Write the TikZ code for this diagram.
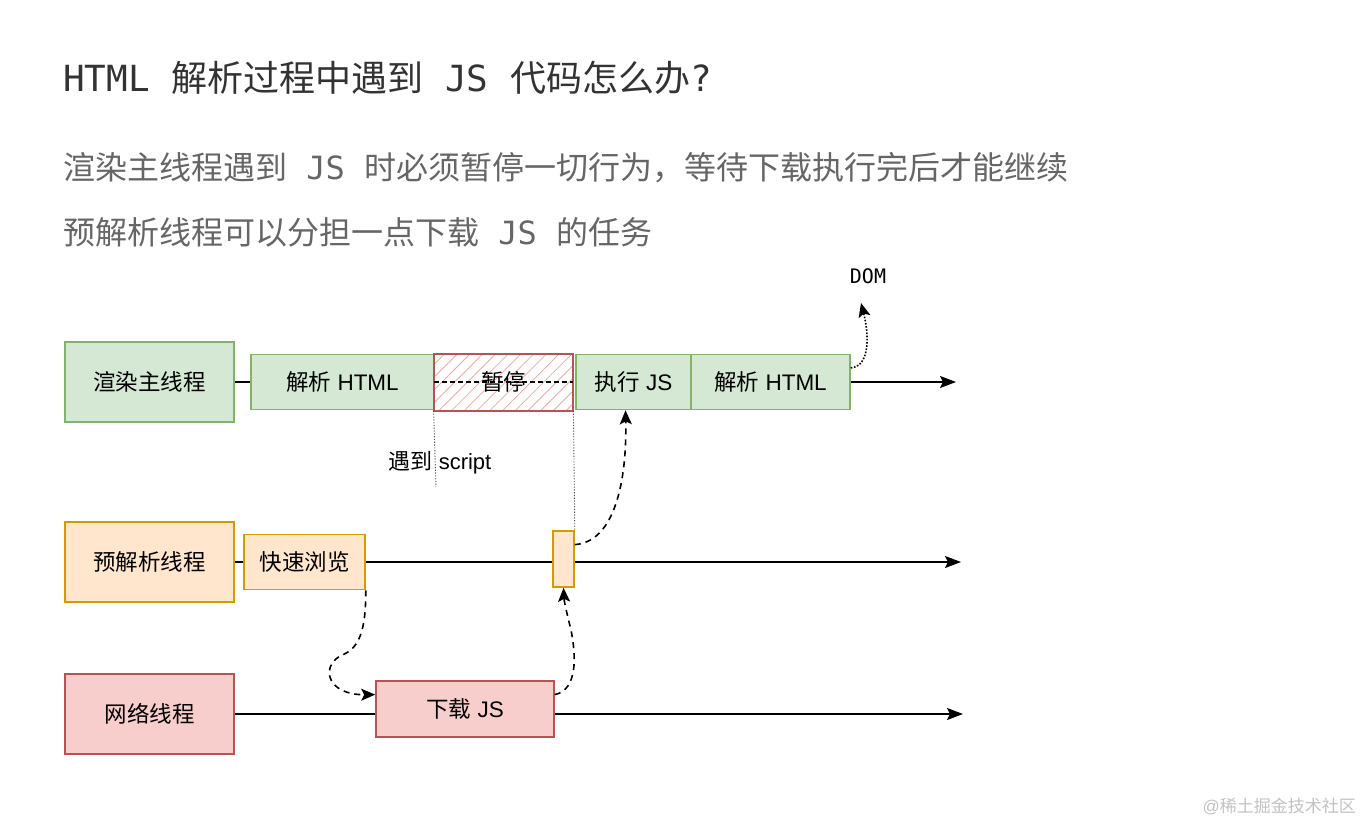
\documentclass[tikz,border=0pt]{standalone}
\usepackage{fontspec}
\setmainfont{Liberation Sans}
\newfontfamily\cjk{Noto Sans CJK SC}
\newfontfamily\monof{DejaVu Sans Mono}
\usetikzlibrary{arrows.meta,patterns.meta,calc}
\definecolor{gfill}{HTML}{D5E8D4}\definecolor{gline}{HTML}{82B366}
\definecolor{ofill}{HTML}{FFE6CC}\definecolor{oline}{HTML}{D79B00}
\definecolor{rfill}{HTML}{F8CECC}\definecolor{rline}{HTML}{B85450}
\definecolor{hatch}{HTML}{F4A6A3}
\definecolor{titlec}{HTML}{333333}\definecolor{subc}{HTML}{666666}
\definecolor{wm}{HTML}{C2C2C2}
\tikzset{
  box/.style={draw, line width=1.6pt, inner sep=0pt, font=\fontsize{22.5}{26}\selectfont},
  gbox/.style={box, fill=gfill, draw=gline},
  obox/.style={box, fill=ofill, draw=oline},
  rbox/.style={box, fill=rfill, draw=rline},
  tl/.style={line width=1.6pt, black},
  tla/.style={tl, -{Stealth[length=16pt,width=12pt,inset=3pt]}},
  dsh/.style={line width=1.6pt, dash pattern=on 6pt off 5pt, -{Stealth[length=14pt,width=12pt,inset=3pt]}},
  dot/.style={line width=0.9pt, black!70, dash pattern=on 1.2pt off 1.6pt},
}
\begin{document}
\begin{tikzpicture}[x=1pt,y=-1pt]
\useasboundingbox (0,0) rectangle (1362,824);
% titles
\node[anchor=west, inner sep=0pt, text=titlec, font=\fontsize{36}{40}\selectfont] (title) at (63,78)
  {{\monof HTML\ }{\cjk 解析过程中遇到}{\monof\ JS\ }{\cjk 代码怎么办}{\monof ?}};
\node[anchor=west, inner sep=0pt, text=subc, font=\fontsize{32}{38}\selectfont] (sub1) at (63,168)
  {{\cjk 渲染主线程遇到}{\monof\ JS\ }{\cjk 时必须暂停一切行为，等待下载执行完后才能继续}};
\node[anchor=west, inner sep=0pt, text=subc, font=\fontsize{32}{38}\selectfont] (sub2) at (63,232)
  {{\cjk 预解析线程可以分担一点下载}{\monof\ JS\ }{\cjk 的任务}};

% row 1
\node[gbox, minimum width=169pt, minimum height=80pt] (main) at (149.5,382) {\cjk 渲染主线程};
\node[gbox, minimum width=183pt, minimum height=55pt] (p1) at (342.5,382) {{\cjk 解析} HTML};
\node[box, draw=rline, line width=2pt, pattern={Lines[angle=45,distance=9pt,line width=0.8pt]}, pattern color=hatch, minimum width=139pt, minimum height=57pt] (pause) at (503.5,382) {};
\draw[line width=1.2pt, dash pattern=on 5pt off 3pt] (pause.west) -- (pause.east);
\node[box, draw=none, fill=none] (pauset) at (pause.center) {\cjk 暂停};
\node[gbox, minimum width=115pt, minimum height=55pt] (exec) at (633.5,382) {{\cjk 执行} JS};
\node[gbox, minimum width=159pt, minimum height=55pt] (p2) at (770.5,382) {{\cjk 解析} HTML};
\coordinate (e1) at (956,382);
\draw[tl] (main.east) -- (p1.west);
\draw[tla] (p2.east) -- (e1);
\node[font=\monof\fontsize{20}{24}\selectfont, inner sep=0pt] (dom) at (868,276) {DOM};
\draw[line width=1.6pt, dash pattern=on 1.6pt off 1.6pt, -{Stealth[length=14pt,width=12pt,inset=3pt]}]
  ($(p2.north east)!0.25!(p2.south east)$) .. controls (872,366) and (868,330) .. (861,303);

% dotted guides
\coordinate (g1) at (436,487);
\draw[dot] (pause.south west) -- (g1);
\node[font=\fontsize{22}{26}\selectfont, inner sep=0pt] (enc) at (440,463) {{\cjk 遇到} script};

% row 2
\node[obox, minimum width=169pt, minimum height=80pt] (pre) at (149.5,562) {\cjk 预解析线程};
\node[obox, minimum width=121pt, minimum height=55pt] (quick) at (304.5,562) {\cjk 快速浏览};
\coordinate (e2) at (961,562);
\draw[tl] (pre.east) -- (quick.west);
\draw[tla] (quick.east) -- (e2);
\node[obox, minimum width=21pt, minimum height=56pt] (small) at (563.5,559) {};
\draw[dot] (pause.south east) -- (small.north east);

% row 3
\node[rbox, minimum width=169pt, minimum height=80pt] (net) at (149.5,714) {\cjk 网络线程};
\node[rbox, minimum width=178pt, minimum height=56pt] (dl) at (465,709) {{\cjk 下载} JS};
\coordinate (e3) at (963,714);
\draw[tl] (net.east) -- (net.east -| dl.west);
\draw[tla] (dl.east |- e3) -- (e3);

% dashed curves
\draw[dsh] (quick.south east) .. controls (366,640) and (355,650) .. (340,656)
  .. controls (320,668) and (328,695) .. ($(dl.north west)!0.25!(dl.south west)$);
\draw[dsh] ($(dl.north east)!0.25!(dl.south east)$) .. controls (578,690) and (576,655) .. (571,630)
  .. controls (566,610) and (564,600) .. (small.south);
\draw[dsh] ($(small.north east)!0.25!(small.south east)$) .. controls (615,542) and (627,480) .. ($(exec.south)+(-8,0)$);

% watermark
\node[anchor=east, inner sep=0pt, text=wm, font=\fontsize{17}{20}\selectfont] (wmark) at (1356,806) {@{\cjk 稀土掘金技术社区}};
\end{tikzpicture}
\end{document}
